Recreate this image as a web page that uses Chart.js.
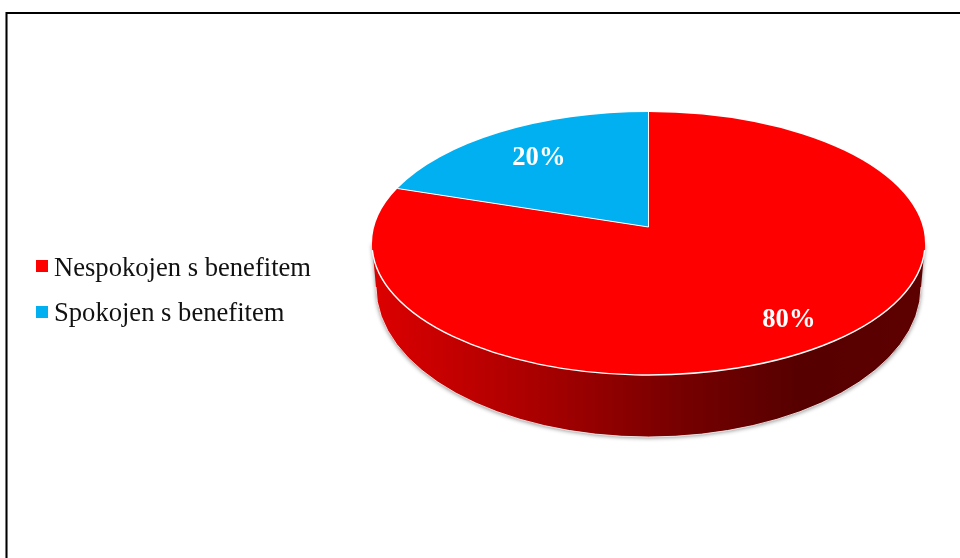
<!DOCTYPE html>
<html>
<head>
<meta charset="utf-8">
<style>
  html, body { margin: 0; padding: 0; background: #fff; }
  #chart { display: block; }
</style>
<script src="https://cdn.jsdelivr.net/npm/chart.js@4"></script>
</head>
<body>
<canvas id="chart" width="960" height="558"></canvas>
<script>
const categories = ['Nespokojen s benefitem', 'Spokojen s benefitem'];
const percentages = [80, 20];
const sliceColors = ['#ff0000', '#00b0f0'];

// Top face: the ellipse on screen and where the pie centre lands inside it
const top3d = { cx: 648.5, cy: 243.5, rx: 276.5, ry: 131.5, apexY: 227 };
// Lower rim of the wall
const rim = { cx: 648.5, cy: 287, rx: 272.5, ry: 150 };

// Perspective constants for a unit circle, solved from the top and bottom of the ellipse
const yTop = top3d.cy - top3d.ry;
const yBottom = top3d.cy + top3d.ry;
const persp = (2 * top3d.apexY - yTop - yBottom) / (yBottom - yTop);
const slopeY = yBottom + yBottom * persp - top3d.apexY;
const scaleX = top3d.rx * Math.sqrt(1 - persp * persp);

function project(angle, r) {
  const u = Math.cos(angle) * r;
  const v = Math.sin(angle) * r;
  const d = 1 + persp * v;
  return { x: top3d.cx + scaleX * u / d, y: (top3d.apexY + slopeY * v) / d };
}

function ellipseParam(p) {
  return Math.atan2((p.y - top3d.cy) / top3d.ry, (p.x - top3d.cx) / top3d.rx);
}

function traceSlice(ctx, start, end) {
  const a = project(start, 1);
  const b = project(end, 1);
  ctx.beginPath();
  ctx.moveTo(top3d.cx, top3d.apexY);
  ctx.lineTo(a.x, a.y);
  ctx.ellipse(top3d.cx, top3d.cy, top3d.rx, top3d.ry, 0, ellipseParam(a), ellipseParam(b));
  ctx.closePath();
}

function drawWall(ctx) {
  const grad = ctx.createLinearGradient(rim.cx - rim.rx, 0, rim.cx + rim.rx, 0);
  grad.addColorStop(0, '#dc0000');
  grad.addColorStop(0.3, '#a80000');
  grad.addColorStop(0.55, '#780000');
  grad.addColorStop(0.78, '#560000');
  grad.addColorStop(1, '#5e0000');

  ctx.save();
  ctx.shadowColor = 'rgba(90,90,90,0.7)';
  ctx.shadowBlur = 4;
  ctx.shadowOffsetX = 0;
  ctx.shadowOffsetY = 1;
  ctx.beginPath();
  ctx.moveTo(top3d.cx - top3d.rx, top3d.cy);
  ctx.lineTo(rim.cx - rim.rx, rim.cy);
  ctx.ellipse(rim.cx, rim.cy, rim.rx, rim.ry, 0, Math.PI, 0, true);
  ctx.lineTo(top3d.cx + top3d.rx, top3d.cy);
  ctx.closePath();
  ctx.fillStyle = grad;
  ctx.fill();
  ctx.restore();

  ctx.beginPath();
  ctx.ellipse(rim.cx, rim.cy, rim.rx, rim.ry, 0, Math.PI, 0, true);
  ctx.strokeStyle = 'rgba(255,255,255,0.8)';
  ctx.lineWidth = 1;
  ctx.stroke();
}

// Replaces the flat arcs with the tilted disc, still using the angles the controller worked out
const tiltedPie = {
  id: 'tiltedPie',
  beforeDatasetDraw(chart) {
    const ctx = chart.ctx;
    const arcs = chart.getDatasetMeta(0).data;
    ctx.save();
    drawWall(ctx);
    arcs.forEach((arc, i) => {
      traceSlice(ctx, arc.startAngle, arc.endAngle);
      ctx.fillStyle = sliceColors[i];
      ctx.fill();
    });
    // thin white edges between the slices and along the front of the disc
    ctx.strokeStyle = '#fff';
    ctx.lineWidth = 1;
    arcs.forEach(arc => {
      const p = project(arc.startAngle, 1);
      ctx.beginPath();
      ctx.moveTo(top3d.cx, top3d.apexY);
      ctx.lineTo(p.x, p.y);
      ctx.stroke();
    });
    ctx.lineWidth = 1.4;
    ctx.beginPath();
    ctx.ellipse(top3d.cx, top3d.cy, top3d.rx, top3d.ry, 0, 0.05, Math.PI - 0.05);
    ctx.stroke();
    ctx.restore();
    return false;
  },
  afterDatasetsDraw(chart) {
    const ctx = chart.ctx;
    const labelRadius = [0.8, 0.73];
    ctx.save();
    ctx.font = 'bold 26.6px "Liberation Serif"';
    ctx.fillStyle = '#fff';
    ctx.textAlign = 'center';
    ctx.textBaseline = 'alphabetic';
    chart.getDatasetMeta(0).data.forEach((arc, i) => {
      const mid = (arc.startAngle + arc.endAngle) / 2;
      const p = project(mid, labelRadius[i]);
      ctx.fillText(percentages[i] + '%', p.x, p.y + 9);
    });
    ctx.restore();
  }
};

// Frame on the top and left, plus the legend on the left side
const frameAndLegend = {
  id: 'frameAndLegend',
  beforeDraw(chart) {
    const ctx = chart.ctx;
    ctx.save();
    ctx.fillStyle = '#fff';
    ctx.fillRect(0, 0, 960, 558);
    ctx.fillStyle = '#777';
    ctx.fillRect(5, 12, 3, 546);
    ctx.fillStyle = '#000';
    ctx.fillRect(6, 12, 954, 2);
    ctx.fillRect(6, 12, 1, 546);
    ctx.restore();
  },
  afterDraw(chart) {
    const ctx = chart.ctx;
    ctx.save();
    ctx.font = '26.6px "Liberation Serif"';
    ctx.textAlign = 'left';
    ctx.textBaseline = 'alphabetic';
    chart.data.labels.forEach((label, i) => {
      const rowY = 276 + i * 45;
      ctx.fillStyle = sliceColors[i];
      ctx.fillRect(36, rowY - 16 + i, 12, 12);
      ctx.fillStyle = '#111';
      ctx.fillText(label, 54, rowY);
    });
    ctx.restore();
  }
};

new Chart(document.getElementById('chart'), {
  type: 'pie',
  data: {
    labels: categories,
    datasets: [{ data: percentages, backgroundColor: sliceColors, borderWidth: 0 }]
  },
  options: {
    responsive: false,
    animation: false,
    plugins: {
      legend: { display: false },
      tooltip: { enabled: false }
    }
  },
  plugins: [frameAndLegend, tiltedPie]
});
</script>
</body>
</html>
